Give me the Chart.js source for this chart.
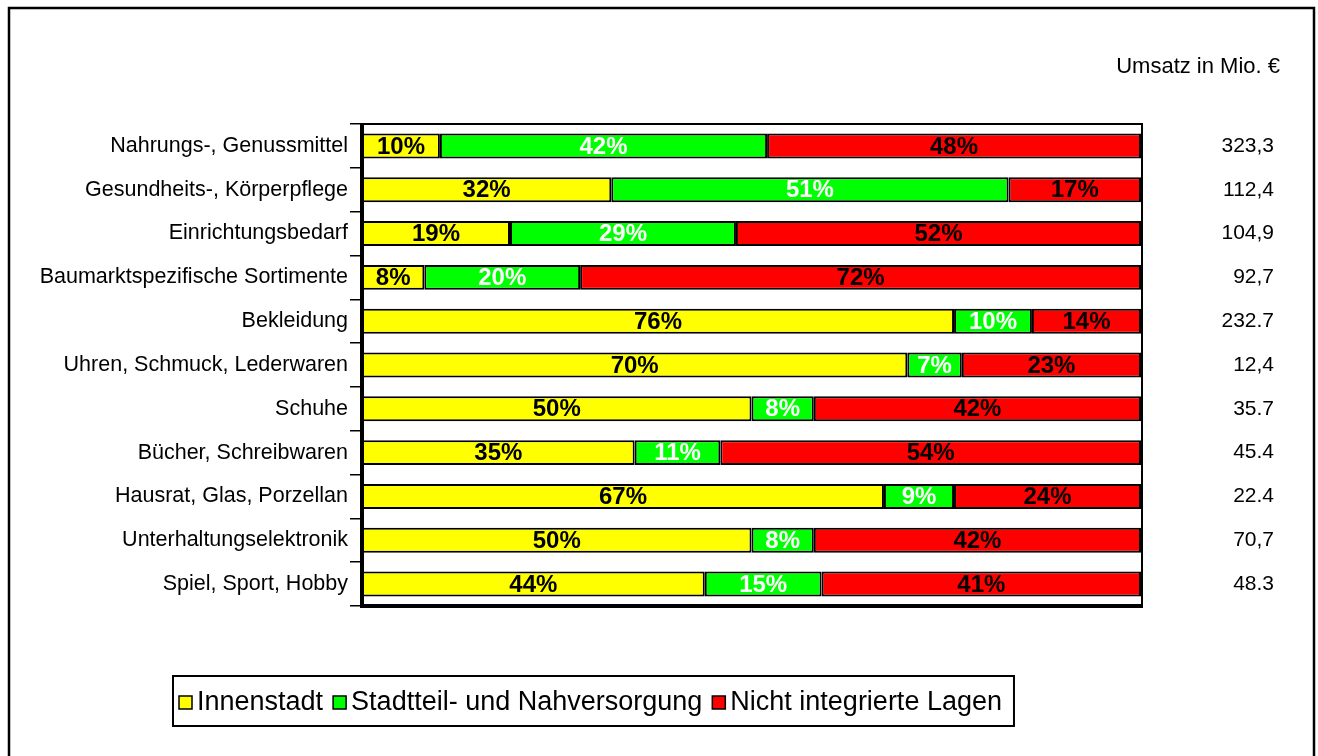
<!DOCTYPE html>
<html>
<head>
<meta charset="utf-8">
<script src="https://cdn.jsdelivr.net/npm/chart.js@4/dist/chart.umd.min.js"></script>
<style>
  body { margin: 0; background: #fff; }
  #wrap { width: 1318px; height: 756px; position: relative; }
</style>
</head>
<body>
<div id="wrap"><canvas id="chart"></canvas></div>
<script>
// categories (top to bottom)
const categories = [
  "Nahrungs-, Genussmittel",
  "Gesundheits-, Körperpflege",
  "Einrichtungsbedarf",
  "Baumarktspezifische Sortimente",
  "Bekleidung",
  "Uhren, Schmuck, Lederwaren",
  "Schuhe",
  "Bücher, Schreibwaren",
  "Hausrat, Glas, Porzellan",
  "Unterhaltungselektronik",
  "Spiel, Sport, Hobby"
];
// shares in %
const innenstadt      = [10, 32, 19, 8, 76, 70, 50, 35, 67, 50, 44];
const stadtteil       = [42, 51, 29, 20, 10, 7, 8, 11, 9, 8, 15];
const nichtIntegriert = [48, 17, 52, 72, 14, 23, 42, 54, 24, 42, 41];
// turnover column, written as in the source
const umsatz = ["323,3", "112,4", "104,9", "92,7", "232.7", "12,4", "35.7", "45.4", "22.4", "70,7", "48.3"];
const umsatzTitle = "Umsatz in Mio. €";

const FONT = "'Liberation Sans', Arial, sans-serif";
const labelColors = ["#000", "#fff", "#000"];

const decor = {
  id: "decor",
  beforeDraw(chart) {
    const ctx = chart.ctx;
    ctx.save();
    ctx.fillStyle = "#fff";
    ctx.fillRect(0, 0, chart.width, chart.height);
    // outer frame
    ctx.strokeStyle = "#000";
    ctx.lineWidth = 2.5;
    ctx.beginPath();
    ctx.moveTo(9, chart.height + 5);
    ctx.lineTo(9, 8);
    ctx.lineTo(1314, 8);
    ctx.lineTo(1314, chart.height + 5);
    ctx.stroke();
    ctx.restore();
  },
  afterDatasetsDraw(chart) {
    const ctx = chart.ctx;
    const a = chart.chartArea;
    const yScale = chart.scales.y;
    ctx.save();
    // plot frame
    ctx.strokeStyle = "#000";
    ctx.lineWidth = 2;
    ctx.beginPath();
    ctx.moveTo(a.left, a.top); ctx.lineTo(a.right + 1, a.top); ctx.lineTo(a.right + 1, a.bottom);
    ctx.stroke();
    ctx.lineWidth = 4;
    ctx.beginPath();
    ctx.moveTo(a.left, a.top - 1); ctx.lineTo(a.left, a.bottom); ctx.lineTo(a.right + 2, a.bottom);
    ctx.stroke();

    // percentage labels
    ctx.font = "bold 24px " + FONT;
    ctx.textAlign = "center";
    ctx.textBaseline = "middle";
    chart.data.datasets.forEach((ds, di) => {
      chart.getDatasetMeta(di).data.forEach((bar, i) => {
        const p = bar.getCenterPoint();
        ctx.fillStyle = labelColors[di];
        ctx.fillText(ds.data[i] + "%", p.x, p.y + 1);
      });
    });

    // turnover column
    ctx.fillStyle = "#000";
    ctx.font = "21px " + FONT;
    ctx.textAlign = "right";
    umsatz.forEach((v, i) => {
      ctx.fillText(v, 1274, yScale.getPixelForValue(i));
    });
    ctx.font = "22px " + FONT;
    ctx.fillText(umsatzTitle, 1280, 67);

    // legend with box
    ctx.font = "27px " + FONT;
    ctx.textAlign = "left";
    const cy = 702;
    let x = 179;
    ctx.lineWidth = 1.5;
    chart.data.datasets.forEach(ds => {
      ctx.fillStyle = ds.backgroundColor;
      ctx.fillRect(x, cy - 6, 13, 13);
      ctx.strokeRect(x, cy - 6, 13, 13);
      x += 18;
      ctx.fillStyle = "#000";
      ctx.fillText(ds.label, x, cy + 1);
      x += ctx.measureText(ds.label).width + 10;
    });
    ctx.lineWidth = 2;
    ctx.strokeRect(173, 676, x - 173 + 2, 50);
    ctx.restore();
  }
};

new Chart(document.getElementById("chart"), {
  type: "bar",
  data: {
    labels: categories,
    datasets: [
      { label: "Innenstadt", data: innenstadt, backgroundColor: "#ffff00" },
      { label: "Stadtteil- und Nahversorgung", data: stadtteil, backgroundColor: "#00ff00" },
      { label: "Nicht integrierte Lagen", data: nichtIntegriert, backgroundColor: "#ff0000" }
    ]
  },
  options: {
    indexAxis: "y",
    responsive: true,
    maintainAspectRatio: false,
    animation: false,
    datasets: {
      bar: {
        barPercentage: 0.57,
        categoryPercentage: 1,
        borderWidth: 2,
        borderColor: "#000",
        borderSkipped: false
      }
    },
    layout: { padding: { top: 124, right: 177, bottom: 150, left: 0 } },
    scales: {
      x: { stacked: true, min: 0, max: 100, display: false },
      y: {
        stacked: true,
        afterFit(s) { s.width = 362; },
        grid: { drawOnChartArea: false, color: "#000", tickLength: 12, lineWidth: 1.5 },
        border: { display: false },
        ticks: { color: "#000", font: { family: FONT, size: 21.5 }, padding: 2 }
      }
    },
    plugins: {
      legend: { display: false },
      tooltip: { enabled: false }
    }
  },
  plugins: [decor]
});
</script>
</body>
</html>
